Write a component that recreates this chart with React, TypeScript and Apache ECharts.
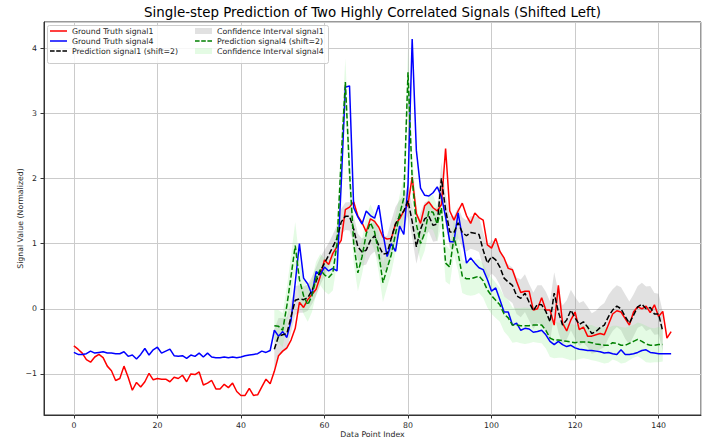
import React, { useEffect, useRef } from "react";
import * as echarts from "echarts";

const TITLE = "Single-step Prediction of Two Highly Correlated Signals (Shifted Left)";
const X_NAME = "Data Point Index";
const Y_NAME = "Signal Value (Normalized)";

const PRED_START = 48;

const groundTruthSignal1 = [
  -0.57, -0.62, -0.68, -0.78, -0.82, -0.74, -0.70, -0.75, -0.88, -0.95,
  -1.10, -1.07, -0.88, -1.05, -1.25, -1.13, -1.20, -1.12, -0.99, -1.09,
  -1.07, -1.08, -1.08, -1.12, -1.05, -1.07, -1.02, -1.12, -1.00, -1.01,
  -0.97, -1.17, -1.14, -1.10, -1.23, -1.23, -1.16, -1.21, -1.14, -1.27,
  -1.33, -1.33, -1.22, -1.33, -1.32, -1.20, -1.08, -1.15, -0.96, -0.72,
  -0.65, -0.60, -0.48, -0.30, 0.10, 0.02, 0.14, 0.22, 0.30, 0.50,
  0.75, 0.68, 0.85, 0.95, 1.05, 1.52, 1.56, 1.64, 1.42, 1.32,
  1.18, 1.38, 1.34, 1.25, 1.10, 1.07, 1.08, 1.30, 1.38, 1.50,
  1.60, 2.02, 1.46, 1.31, 1.58, 1.64, 1.55, 1.50, 1.60, 2.46,
  1.50, 1.36, 1.50, 1.62, 1.43, 1.31, 1.47, 1.40, 1.36, 0.98,
  0.93, 1.08, 0.88, 0.78, 0.62, 0.60, 0.42, 0.25, 0.27, 0.27,
  -0.02, 0.00, 0.17, -0.02, -0.02, -0.25, 0.36, -0.22, -0.34, -0.17,
  -0.05, -0.32, -0.28, -0.42, -0.42, -0.40, -0.38, -0.40, -0.24, -0.08,
  -0.03, -0.05, -0.15, -0.25, -0.05, 0.03, 0.00, 0.04, -0.06, 0.06,
  -0.12, -0.04, -0.45, -0.35,
];

const groundTruthSignal4 = [
  -0.67, -0.70, -0.70, -0.69, -0.65, -0.68, -0.67, -0.66, -0.68, -0.68,
  -0.69, -0.69, -0.66, -0.73, -0.71, -0.77, -0.70, -0.61, -0.71, -0.63,
  -0.59, -0.68, -0.65, -0.62, -0.72, -0.73, -0.72, -0.76, -0.71, -0.73,
  -0.68, -0.74, -0.68, -0.74, -0.75, -0.75, -0.74, -0.75, -0.74, -0.75,
  -0.74, -0.72, -0.71, -0.70, -0.69, -0.65, -0.67, -0.64, -0.33, -0.42,
  -0.35, -0.44, -0.18, 0.40, 1.00, 0.47, 0.38, 0.22, 0.57, 0.52,
  0.64, 0.58, 0.62, 0.58, 1.90, 3.40, 3.42, 1.55, 1.41, 1.30,
  1.50, 1.43, 1.39, 1.59, 1.16, 0.80, 1.00, 0.88, 1.27, 1.14,
  1.90, 4.14, 2.43, 1.85, 1.74, 1.73, 1.78, 1.87, 1.72, 1.41,
  1.03, 1.03, 1.47, 1.10, 0.70, 0.78, 0.70, 0.63, 0.60, 0.45,
  0.27, 0.32, 0.14, -0.05, -0.05, -0.25, -0.22, -0.33, -0.30, -0.31,
  -0.36, -0.35, -0.33, -0.40, -0.50, -0.55, -0.50, -0.55, -0.58, -0.56,
  -0.60, -0.62, -0.63, -0.64, -0.64, -0.65, -0.66, -0.68, -0.67, -0.69,
  -0.70, -0.63, -0.70, -0.70, -0.69, -0.67, -0.64, -0.63, -0.67, -0.68,
  -0.69, -0.69, -0.69, -0.69,
];

// predictions start at index 48
const predictionSignal1 = [
  -0.62, -0.42, -0.40, -0.38, -0.12, 0.13, 0.15, 0.14, 0.17, 0.28,
  0.42, 0.58, 0.70, 0.82, 0.95, 1.08, 1.33, 1.42, 1.42, 1.22,
  0.95, 0.87, 0.90, 1.05, 1.12, 0.97, 0.84, 0.85, 1.08, 1.30,
  1.42, 1.50, 1.66, 1.34, 0.95, 1.22, 1.38, 1.42, 1.28, 1.30,
  2.00, 1.52, 1.18, 1.17, 1.32, 1.17, 1.12, 1.17, 1.16, 1.14,
  0.90, 0.70, 0.80, 0.75, 0.64, 0.47, 0.41, 0.36, 0.20, 0.16,
  0.24, 0.10, -0.03, 0.07, 0.06, -0.04, -0.20, 0.24, -0.05, -0.25,
  -0.17, -0.02, -0.14, -0.24, -0.20, -0.28, -0.38, -0.35, -0.29, -0.25,
  -0.12, -0.02, 0.04, 0.00, -0.12, -0.22, -0.10, 0.03, 0.07, 0.00,
  0.02, -0.08, -0.08, -0.35,
];

const predictionSignal4 = [
  -0.26, -0.27, -0.33, 0.05, 0.50, 0.97, 0.45, 0.20, 0.06, 0.20,
  0.47, 0.60, 0.52, 0.48, 0.55, 1.00, 2.30, 3.48, 2.10, 1.00,
  0.55, 0.80, 1.15, 1.32, 1.18, 0.85, 0.40, 0.62, 0.83, 1.15,
  1.45, 1.70, 3.63, 2.00, 1.30, 1.00, 1.16, 1.50, 1.48, 1.30,
  1.55, 0.70, 0.64, 1.10, 0.85, 0.50, 0.46, 0.46, 0.48, 0.50,
  0.43, 0.29, 0.20, 0.13, 0.06, -0.08, -0.14, -0.25, -0.25, -0.26,
  -0.26, -0.26, -0.25, -0.25, -0.25, -0.33, -0.45, -0.48, -0.48, -0.49,
  -0.50, -0.51, -0.52, -0.51, -0.51, -0.51, -0.52, -0.54, -0.55, -0.56,
  -0.56, -0.52, -0.53, -0.56, -0.56, -0.53, -0.50, -0.47, -0.50, -0.54,
  -0.56, -0.56, -0.55, -0.55,
];

// half-width of confidence bands
const ciHalfWidthSignal1 = [
  0.30, 0.28, 0.26, 0.25, 0.24, 0.22, 0.21, 0.20, 0.20, 0.21,
  0.22, 0.21, 0.20, 0.19, 0.19, 0.20, 0.20, 0.21, 0.22, 0.21,
  0.20, 0.21, 0.22, 0.23, 0.24, 0.25, 0.26, 0.27, 0.27, 0.26,
  0.25, 0.24, 0.24, 0.25, 0.26, 0.26, 0.25, 0.24, 0.25, 0.26,
  0.25, 0.24, 0.24, 0.25, 0.24, 0.23, 0.24, 0.25, 0.26, 0.27,
  0.27, 0.26, 0.26, 0.27, 0.28, 0.28, 0.27, 0.27, 0.28, 0.29,
  0.29, 0.28, 0.28, 0.29, 0.30, 0.30, 0.31, 0.32, 0.31, 0.30,
  0.30, 0.31, 0.32, 0.33, 0.32, 0.31, 0.31, 0.32, 0.33, 0.34,
  0.33, 0.32, 0.32, 0.33, 0.34, 0.33, 0.32, 0.32, 0.33, 0.34,
  0.33, 0.32, 0.31, 0.30,
];

const ciHalfWidthSignal4 = [
  0.24, 0.25, 0.26, 0.28, 0.32, 0.36, 0.32, 0.28, 0.26, 0.25,
  0.25, 0.24, 0.25, 0.26, 0.27, 0.30, 0.34, 0.36, 0.34, 0.30,
  0.28, 0.27, 0.27, 0.28, 0.28, 0.29, 0.30, 0.29, 0.28, 0.28,
  0.29, 0.31, 0.36, 0.33, 0.30, 0.28, 0.27, 0.27, 0.27, 0.27,
  0.28, 0.28, 0.27, 0.27, 0.27, 0.26, 0.25, 0.26, 0.27, 0.26,
  0.26, 0.27, 0.28, 0.27, 0.26, 0.27, 0.28, 0.27, 0.26, 0.27,
  0.28, 0.27, 0.26, 0.27, 0.28, 0.28, 0.29, 0.28, 0.27, 0.26,
  0.27, 0.28, 0.27, 0.26, 0.25, 0.26, 0.27, 0.26, 0.27, 0.28,
  0.27, 0.26, 0.27, 0.28, 0.27, 0.26, 0.25, 0.26, 0.27, 0.28,
  0.27, 0.26, 0.27, 0.26,
];

const X_TICKS = [0, 20, 40, 60, 80, 100, 120, 140];
const Y_TICKS = [-1, 0, 1, 2, 3, 4];

const FONT = "DejaVu Sans";
const TEXT_COLOR = "#262626";
const SMALL = 7.8;
const RECT_ICON = "path://M0,0H17V6H0Z";
const SOLID_ICON = "path://M0,0H17V1.5H0Z";
const DASH_ICON = "path://M0,0H4.6V1.5H0ZM6.2,0H10.8V1.5H6.2ZM12.4,0H17V1.5H12.4Z";

const toPairs = (arr: number[], start: number) => arr.map((v, i) => [start + i, v]);

function bandSeries(name: string, pred: number[], hw: number[], color: string) {
  const rows = pred.map((v, i) => [PRED_START + i, v - hw[i], v + hw[i]]);
  return {
    type: "custom" as const,
    name,
    silent: true,
    clip: true,
    itemStyle: { color },
    encode: { x: 0, y: [1, 2] },
    data: rows,
    renderItem: (params: any, api: any) => {
      if (params.dataIndex !== 0) return null;
      const upper = rows.map((r) => api.coord([r[0], r[2]]));
      const lower = rows.map((r) => api.coord([r[0], r[1]])).reverse();
      return {
        type: "polygon",
        shape: { points: upper.concat(lower) },
        style: { fill: color, stroke: "none" },
      };
    },
  };
}

export default function App() {
  const ref = useRef<HTMLDivElement>(null);

  useEffect(() => {
    if (!ref.current) return;
    const chart = echarts.init(ref.current, undefined, { renderer: "svg" });

    const lineBase = {
      type: "line" as const,
      symbol: "none",
      showSymbol: false,
      smooth: false,
      silent: true,
    };
    const dash = [5.5, 2.4];

    const minusFmt = (v: number) => (v < 0 ? "\u2212" + Math.abs(v) : String(v));

    const legendCommon = {
      orient: "vertical",
      top: 27,
      itemGap: 2,
      itemWidth: 17,
      itemHeight: 10,
      selectedMode: false,
      padding: 0,
      textStyle: { fontFamily: FONT, fontSize: SMALL, color: TEXT_COLOR },
    };

    const axisCommon = {
      nameLocation: "middle",
      nameMoveOverlap: false,
      nameTextStyle: { fontFamily: FONT, fontSize: SMALL, color: TEXT_COLOR },
      axisLine: { show: true, onZero: false, lineStyle: { color: "#333333", width: 1 } },
      axisTick: { show: true, length: 3.5, lineStyle: { color: "#333333" } },
      splitLine: { show: true, lineStyle: { color: "#cbcbcb", width: 1 } },
    };

    const option: any = {
      animation: false,
      backgroundColor: "#ffffff",
      textStyle: { fontFamily: FONT },
      grid: {
        left: 44,
        right: 10,
        top: 22,
        bottom: 28,
        show: true,
        borderColor: "#333333",
        borderWidth: 1,
        backgroundColor: "transparent",
        containLabel: false,
        outerBoundsMode: "none",
      },
      graphic: {
        elements: [
          {
            id: "title",
            type: "text",
            x: 372.5,
            y: 12,
            z: 10,
            style: {
              text: TITLE,
              align: "center",
              verticalAlign: "middle",
              textAlign: "center",
              textVerticalAlign: "middle",
              fontFamily: FONT,
              fontSize: 13.4,
              fill: "#000000",
            },
          },
          {
            id: "legendBox",
            type: "rect",
            left: 47,
            top: 25,
            z: 50,
            silent: true,
            shape: { width: 281, height: 38, r: 2 },
            style: { fill: "rgba(255,255,255,0.85)", stroke: "#cccccc", lineWidth: 1 },
          },
        ],
      },
      legend: [
        {
          ...legendCommon,
          left: 50,
          z: 60,
          data: [
            { name: "Ground Truth signal1", icon: SOLID_ICON },
            { name: "Ground Truth signal4", icon: SOLID_ICON },
            { name: "Prediction signal1 (shift=2)", icon: DASH_ICON },
          ],
        },
        {
          ...legendCommon,
          left: 195,
          z: 60,
          data: [
            { name: "Confidence Interval signal1", icon: RECT_ICON },
            { name: "Prediction signal4 (shift=2)", icon: DASH_ICON },
            { name: "Confidence Interval signal4", icon: RECT_ICON },
          ],
        },
      ],
      xAxis: {
        ...axisCommon,
        type: "value",
        min: -7.15,
        max: 150.15,
        splitNumber: 8,
        name: X_NAME,
        nameGap: 15,
        axisLabel: {
          showMinLabel: false,
          showMaxLabel: false,
          margin: 6.5,
          fontFamily: FONT,
          fontSize: SMALL,
          color: TEXT_COLOR,
          formatter: (v: number) => (X_TICKS.includes(v) ? minusFmt(v) : ""),
        },
      },
      yAxis: {
        ...axisCommon,
        type: "value",
        min: -1.63,
        max: 4.4,
        splitNumber: 6,
        name: Y_NAME,
        nameGap: 20,
        axisLabel: {
          showMinLabel: false,
          showMaxLabel: false,
          margin: 7,
          fontFamily: FONT,
          fontSize: SMALL,
          color: TEXT_COLOR,
          formatter: (v: number) => (Y_TICKS.includes(v) ? minusFmt(v) : ""),
        },
      },
      series: [
        {
          ...lineBase,
          name: "Ground Truth signal1",
          data: toPairs(groundTruthSignal1, 0),
          itemStyle: { color: "#ff0000" },
          lineStyle: { color: "#ff0000", width: 1.5 },
        },
        {
          ...lineBase,
          name: "Ground Truth signal4",
          data: toPairs(groundTruthSignal4, 0),
          itemStyle: { color: "#0000ff" },
          lineStyle: { color: "#0000ff", width: 1.5 },
        },
        {
          ...lineBase,
          name: "Prediction signal1 (shift=2)",
          data: toPairs(predictionSignal1, PRED_START),
          itemStyle: { color: "#000000" },
          lineStyle: { color: "#000000", width: 1.5, type: dash },
        },
        bandSeries("Confidence Interval signal1", predictionSignal1, ciHalfWidthSignal1, "rgba(128,128,128,0.24)"),
        {
          ...lineBase,
          name: "Prediction signal4 (shift=2)",
          data: toPairs(predictionSignal4, PRED_START),
          itemStyle: { color: "#008000" },
          lineStyle: { color: "#008000", width: 1.5, type: dash },
        },
        bandSeries("Confidence Interval signal4", predictionSignal4, ciHalfWidthSignal4, "rgba(144,238,144,0.24)"),
      ],
    };

    chart.setOption(option);
    return () => chart.dispose();
  }, []);

  return <div ref={ref} style={{ width: 711, height: 443, position: "absolute", left: 0, top: 0 }} />;
}
